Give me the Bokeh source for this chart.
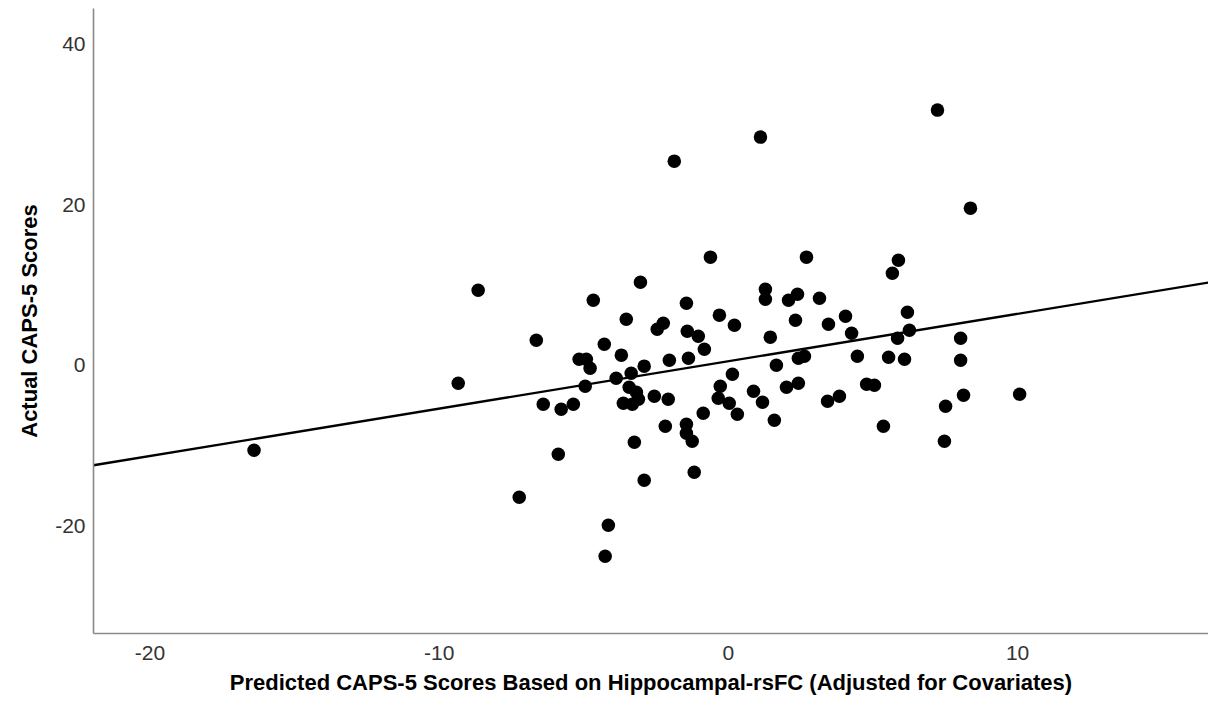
import numpy as np
from bokeh.plotting import figure
from bokeh.models import Range1d, FixedTicker, ColumnDataSource
from bokeh.embed import file_html
from bokeh.resources import INLINE

# Predicted CAPS-5 (x) and actual CAPS-5 (y) scores
predicted = [
    -8.65, -4.67, -3.04, -1.45, -3.53, -2.46, -2.25, -1.42, -1.04, -6.64,
    -4.29, -5.16, -4.91, -4.78, -3.70, -2.91, -3.36, -2.04, -1.38, -3.88,
    -4.95, -9.34, -3.43, -3.18, -3.11, -3.63, -3.32, -2.56, -2.08, -6.40,
    -5.78, -5.36, -2.18, -1.45, -1.45, -1.25, -3.25, -5.88, -2.91, -1.18,
    -7.23, -4.15, -4.26, -16.40, -1.87, -0.62, 2.70, 5.88, 5.67, 1.28,
    1.28, 2.08, 2.39, 3.15, -0.31, 0.21, 2.32, 3.46, 4.05, 6.19,
    -0.83, 4.26, 6.26, 5.85, 1.45, 1.66, 2.42, 2.63, 4.46, 5.54,
    6.09, 0.14, -0.28, -0.35, 0.03, 0.87, 1.18, 0.31, 2.01, 2.42,
    1.59, 3.43, 3.84, 4.78, 5.05, -0.87, 5.36, 7.51, 7.47, 7.23,
    8.37, 8.03, 8.03, 8.13, 10.07, 1.11,
]
actual = [
    9.34, 8.09, 10.33, 7.72, 5.73, 4.48, 5.23, 4.23, 3.61, 3.11,
    2.61, 0.75, 0.75, -0.37, 1.25, -0.12, -1.00, 0.62, 0.87, -1.62,
    -2.61, -2.24, -2.74, -3.36, -4.23, -4.73, -4.86, -3.86, -4.23, -4.86,
    -5.48, -4.86, -7.59, -7.35, -8.47, -9.46, -9.59, -11.08, -14.32, -13.32,
    -16.43, -19.92, -23.78, -10.58, 25.40, 13.45, 13.45, 13.07, 11.45, 9.46,
    8.22, 8.09, 8.84, 8.34, 6.23, 4.98, 5.60, 5.10, 6.10, 6.60,
    1.99, 3.98, 4.36, 3.36, 3.49, 0.00, 0.87, 1.12, 1.12, 1.00,
    0.75, -1.12, -2.61, -4.11, -4.73, -3.24, -4.61, -6.10, -2.74, -2.24,
    -6.85, -4.48, -3.86, -2.37, -2.49, -5.98, -7.59, -5.10, -9.46, 31.75,
    19.55, 3.36, 0.62, -3.74, -3.61, 28.39,
]

# Fit line
fit_slope = 0.59
fit_intercept = 0.49

x_ticks = [-20, -10, 0, 10]
y_ticks = [-20, 0, 20, 40]
x_limits = (-21.95, 16.6)
y_limits = (-33.4, 44.4)

x_title = "Predicted CAPS-5 Scores Based on Hippocampal-rsFC (Adjusted for Covariates)"
y_title = "Actual CAPS-5 Scores"

FONT = "Liberation Sans"

p = figure(width=1208, height=701, output_backend="svg", toolbar_location=None,
           x_range=Range1d(*x_limits), y_range=Range1d(*y_limits),
           min_border_left=93, min_border_right=0, min_border_top=8, min_border_bottom=68)

p.background_fill_color = "white"
p.border_fill_color = "white"
p.outline_line_color = None
p.xgrid.visible = False
p.ygrid.visible = False

# regression line across the x range
lx = np.array(x_limits)
p.line(lx, fit_intercept + fit_slope * lx, line_color="black", line_width=2.4)

src = ColumnDataSource(dict(x=predicted, y=actual))
p.scatter("x", "y", source=src, size=13.5, fill_color="black", line_color=None)

for ax in (p.xaxis[0], p.yaxis[0]):
    ax.axis_line_color = "#8a8a8a"
    ax.axis_line_width = 1.6
    ax.major_tick_line_color = None
    ax.minor_tick_line_color = None
    ax.major_tick_in = 0
    ax.major_tick_out = 0
    ax.minor_tick_out = 0
    ax.major_label_text_font = FONT
    ax.major_label_text_font_size = "21px"
    ax.major_label_text_color = "#333333"
    ax.axis_label_text_font = FONT
    ax.axis_label_text_font_size = "22px"
    ax.axis_label_text_font_style = "bold"
    ax.axis_label_text_color = "black"

p.xaxis.ticker = FixedTicker(ticks=x_ticks)
p.yaxis.ticker = FixedTicker(ticks=y_ticks)
p.xaxis.major_label_overrides = {t: str(t) for t in x_ticks}
p.yaxis.major_label_overrides = {t: str(t) for t in y_ticks}
p.xaxis.axis_label = x_title
p.yaxis.axis_label = y_title
p.xaxis.major_label_standoff = 12
p.yaxis.major_label_standoff = 8
p.xaxis.axis_label_standoff = 7
p.yaxis.axis_label_standoff = 10

open("out.html", "w").write(file_html(p, INLINE))
